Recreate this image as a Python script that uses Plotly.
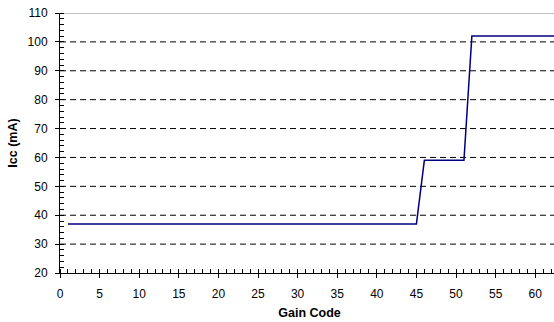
import plotly.graph_objects as go

gain_code = list(range(1, 64))
icc_ma = ([37] * 45) + ([59] * 6) + ([102] * 12)

y_grid = [30, 40, 50, 60, 70, 80, 90, 100]
x_ticks = [0, 5, 10, 15, 20, 25, 30, 35, 40, 45, 50, 55, 60]
y_ticks = [20, 30, 40, 50, 60, 70, 80, 90, 100, 110]

font_family = "Liberation Sans, Arial, sans-serif"

fig = go.Figure()
fig.add_trace(go.Scatter(x=gain_code, y=icc_ma, mode="lines",
                         line=dict(color="#000080", width=1.5), showlegend=False))

shapes = []
for g in y_grid:
    shapes.append(dict(type="line", xref="paper", yref="y", x0=0, x1=1, y0=g, y1=g,
                       line=dict(color="black", width=1, dash="6px,4px"), layer="below"))
shapes.append(dict(type="line", xref="paper", yref="y", x0=0, x1=1, y0=110, y1=110,
                   line=dict(color="#aaaaaa", width=1.5), layer="below"))
fig.update_layout(shapes=shapes)

fig.update_layout(
    width=559, height=322,
    margin=dict(l=60, r=0, t=13, b=49),
    paper_bgcolor="white", plot_bgcolor="white",
    font=dict(family=font_family, size=12, color="black"),
    xaxis=dict(range=[0, 63], tickvals=x_ticks, ticks="outside", ticklen=4, tickwidth=1,
               tickcolor="black", showline=True, linecolor="black", linewidth=1,
               showgrid=False, zeroline=False, ticklabelstandoff=6,
               minor=dict(dtick=1, tick0=0, ticks="inside", ticklen=4, tickcolor="black", showgrid=False),
               title=dict(text="<b>Gain Code</b>", font=dict(size=12.5), standoff=7),
               tickfont=dict(size=12)),
    yaxis=dict(range=[20, 110], tickvals=y_ticks, ticks="outside", ticklen=4, tickwidth=1,
               tickcolor="black", showline=True, linecolor="black", linewidth=1,
               showgrid=False, zeroline=False, ticklabelstandoff=5,
               minor=dict(dtick=2, tick0=20, ticks="inside", ticklen=4, tickcolor="black", showgrid=False),
               title=dict(text="<b>Icc (mA)</b>", font=dict(size=12.5), standoff=7),
               tickfont=dict(size=12)),
    xaxis2=dict(overlaying="x", matches="x", range=[0, 63], tickvals=x_ticks, ticks="inside",
                ticklen=4, tickcolor="black", showticklabels=False, showgrid=False,
                zeroline=False, side="bottom", anchor="y"),
    yaxis2=dict(overlaying="y", matches="y", range=[20, 110], tickvals=y_ticks, ticks="inside",
                ticklen=4, tickcolor="black", showticklabels=False, showgrid=False,
                zeroline=False, side="left", anchor="x"),
)
fig.add_trace(go.Scatter(x=[None], y=[None], xaxis="x2", yaxis="y2", showlegend=False,
                         hoverinfo="skip"))

fig.write_html("out.html")
